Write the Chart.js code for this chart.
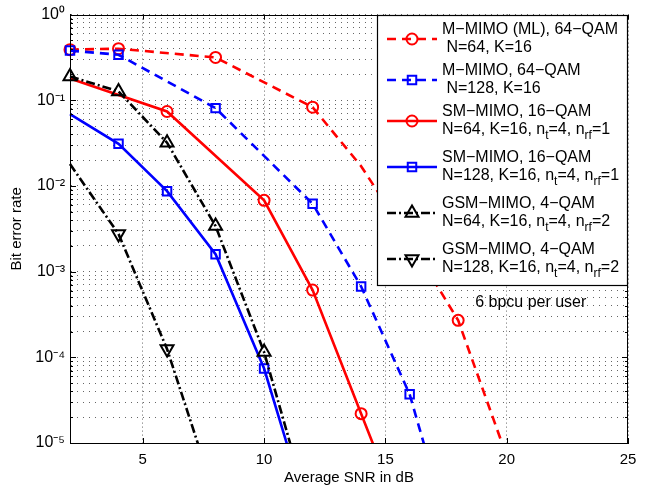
<!DOCTYPE html>
<html>
<head>
<meta charset="utf-8">
<script src="https://cdn.jsdelivr.net/npm/chart.js@4.4.1/dist/chart.umd.min.js"></script>
<style>
  html, body { margin: 0; padding: 0; background: #fff; }
  #wrap { width: 647px; height: 487px; }
</style>
</head>
<body>
<div id="wrap"><canvas id="berChart" width="647" height="487"></canvas></div>
<script>
var mlSnr = [2, 4, 8, 12, 14, 16, 18, 20];
var mlBer = [0.39, 0.40, 0.316, 0.083, 0.017, 0.0023, 2.7e-4, 7e-6];
var mlMarked = [2, 4, 8, 12, 18, 20];

var mm128Snr = [2, 4, 8, 12, 14, 16, 18];
var mm128Ber = [0.38, 0.34, 0.081, 6.2e-3, 6.7e-4, 3.7e-5, 4e-7];
var mm128Marked = [2, 4, 8, 12, 14, 16, 18];

var sm64Snr = [2, 6, 10, 12, 14, 16];
var sm64Ber = [0.18, 0.074, 6.8e-3, 6.1e-4, 2.2e-5, 8e-7];
var sm64Marked = [6, 10, 12, 14, 16];

var sm128Snr = [2, 4, 6, 8, 10, 12];
var sm128Ber = [0.069, 0.031, 8.7e-3, 1.6e-3, 7.4e-5, 1e-6];
var sm128Marked = [4, 6, 8, 10, 12];

var gsm64Snr = [2, 4, 6, 8, 10, 12];
var gsm64Ber = [0.19, 0.127, 0.032, 3.4e-3, 1.15e-4, 1.2e-6];
var gsm64Marked = [2, 4, 6, 8, 10, 12];

var gsm128Snr = [2, 4, 6, 8];
var gsm128Ber = [0.018, 2.75e-3, 1.25e-4, 2.3e-6];
var gsm128Marked = [4, 6, 8];

var xTicks = [5, 10, 15, 20, 25];
var yDecades = [-5, -4, -3, -2, -1, 0];

var seriesNames = [
    ['M−MIMO (ML), 64−QAM', ' N=64, K=16'],
    ['M−MIMO, 64−QAM', ' N=128, K=16'],
    ['SM−MIMO, 16−QAM', 'N=64, K=16, n_{t}=4, n_{rf}=1'],
    ['SM−MIMO, 16−QAM', 'N=128, K=16, n_{t}=4, n_{rf}=1'],
    ['GSM−MIMO, 4−QAM', 'N=64, K=16, n_{t}=4, n_{rf}=2'],
    ['GSM−MIMO, 4−QAM', 'N=128, K=16, n_{t}=4, n_{rf}=2']
];
var noteText = '6 bpcu per user';

var fontFam = "'Liberation Sans', Arial, Helvetica, sans-serif";
var supDigits = {'0':'⁰','1':'¹','2':'²','3':'³','4':'⁴','5':'⁵','-':'⁻'};

function pts(xs, ys) {
    return xs.map(function(x, i){ return {x: x, y: ys[i]}; });
}
function plainName(n) {
    return (n[0] + ' ' + n[1].trim()).replace(/_\{([^}]*)\}/g, '$1');
}
// only some points carry a marker in the figure
function markedOnly(list, r) {
    return function(c){
        var p = c.raw;
        return (p && list.indexOf(p.x) >= 0) ? r : 0;
    };
}

var lineW = 2.6;
var clipArea = {left: 10, top: 10, right: 10, bottom: 0};

var datasets = [
    { data: pts(mlSnr, mlBer), borderColor: '#ff0000', borderDash: [9, 6],
      pointStyle: 'circle', pointRadius: markedOnly(mlMarked, 5.5), legendRadius: 5.5 },
    { data: pts(mm128Snr, mm128Ber), borderColor: '#0000ff', borderDash: [9, 6],
      pointStyle: 'rect', pointRadius: markedOnly(mm128Marked, 6), legendRadius: 6 },
    { data: pts(sm64Snr, sm64Ber), borderColor: '#ff0000', borderDash: [],
      pointStyle: 'circle', pointRadius: markedOnly(sm64Marked, 5.5), legendRadius: 5.5 },
    { data: pts(sm128Snr, sm128Ber), borderColor: '#0000ff', borderDash: [],
      pointStyle: 'rect', pointRadius: markedOnly(sm128Marked, 6), legendRadius: 6 },
    { data: pts(gsm64Snr, gsm64Ber), borderColor: '#000000', borderDash: [9, 3, 2, 3],
      pointStyle: 'triangle', pointRadius: markedOnly(gsm64Marked, 7.5), legendRadius: 7.5 },
    { data: pts(gsm128Snr, gsm128Ber), borderColor: '#000000', borderDash: [9, 3, 2, 3],
      pointStyle: 'triangle', pointRotation: 180, pointRadius: markedOnly(gsm128Marked, 7.5), legendRadius: 7.5 }
];
datasets.forEach(function(d, i){
    d.label = plainName(seriesNames[i]);
    d.borderWidth = lineW;
    d.pointBorderColor = d.borderColor;
    d.pointBackgroundColor = 'rgba(0,0,0,0)';
    d.pointBorderWidth = 2;
    d.tension = 0;
    d.clip = clipArea;
    d.order = datasets.length - 1 - i;   // later series on top, like matlab
});

function drawRich(ctx, str, x, y, size) {
    var parts = str.split(/(_\{[^}]*\})/);
    parts.forEach(function(p){
        if (!p) return;
        if (p.indexOf('_{') === 0) {
            var s = p.slice(2, -1);
            ctx.font = Math.round(size * 0.72) + 'px ' + fontFam;
            ctx.fillText(s, x, y + size * 0.38);
            x += ctx.measureText(s).width;
        } else {
            ctx.font = size + 'px ' + fontFam;
            ctx.fillText(p, x, y);
            x += ctx.measureText(p).width;
        }
    });
}

var figureExtras = {
    id: 'figureExtras',
    afterDatasetsDraw: function(chart) {
        var ctx = chart.ctx, a = chart.chartArea;
        var xs = chart.scales.x, ys = chart.scales.y;
        ctx.save();

        // inward tick marks
        ctx.strokeStyle = '#000';
        ctx.lineWidth = 1;
        ctx.setLineDash([]);
        ctx.beginPath();
        xTicks.forEach(function(v){
            var px = Math.round(xs.getPixelForValue(v)) + 0.5;
            ctx.moveTo(px, a.bottom); ctx.lineTo(px, a.bottom - 5);
            ctx.moveTo(px, a.top); ctx.lineTo(px, a.top + 5);
        });
        ys.ticks.forEach(function(t){
            var len = t.major ? 6 : 3;
            var py = Math.round(ys.getPixelForValue(t.value)) + 0.5;
            ctx.moveTo(a.left, py); ctx.lineTo(a.left + len, py);
            ctx.moveTo(a.right, py); ctx.lineTo(a.right - len, py);
        });
        ctx.stroke();

        // frame
        ctx.strokeRect(Math.round(a.left) + 0.5, Math.round(a.top) + 0.5,
                       Math.round(a.right - a.left) - 1, Math.round(a.bottom - a.top));

        // legend box
        var lx = Math.round(a.right) - 251, ly = Math.round(a.top), lw = 251, lh = 270;
        ctx.fillStyle = '#fff';
        ctx.fillRect(lx, ly, lw, lh);
        ctx.strokeStyle = '#000';
        ctx.lineWidth = 1.2;
        ctx.strokeRect(lx + 0.5, ly + 0.5, lw - 1, lh);

        var entryH = [41, 41, 46, 46, 46, 46];
        var yy = ly + 15;
        chart.data.datasets.forEach(function(d, i){
            var sy = yy + 9;
            ctx.save();
            ctx.strokeStyle = d.borderColor;
            ctx.lineWidth = lineW;
            ctx.setLineDash(d.borderDash);
            ctx.beginPath();
            ctx.moveTo(lx + 10, sy); ctx.lineTo(lx + 60, sy);
            ctx.stroke();
            ctx.setLineDash([]);
            ctx.lineWidth = 2;
            ctx.fillStyle = 'rgba(0,0,0,0)';
            Chart.helpers.drawPoint(ctx, {
                pointStyle: d.pointStyle, radius: d.legendRadius,
                rotation: d.pointRotation || 0, borderWidth: 2
            }, lx + 35, sy);
            ctx.restore();

            ctx.fillStyle = '#000';
            ctx.textBaseline = 'middle';
            ctx.textAlign = 'left';
            drawRich(ctx, seriesNames[i][0], lx + 65, yy, 16);
            drawRich(ctx, seriesNames[i][1], lx + 65, yy + 18, 16);
            yy += entryH[i];
        });

        // annotation
        ctx.fillStyle = '#000';
        ctx.font = '16px ' + fontFam;
        ctx.textBaseline = 'middle';
        ctx.fillText(noteText, xs.getPixelForValue(18.7), ys.getPixelForValue(4.4e-4));

        ctx.restore();
    }
};

var ctx = document.getElementById('berChart');
var berChart = new Chart(ctx, {
    type: 'line',
    data: { datasets: datasets },
    options: {
        responsive: false,
        animation: false,
        devicePixelRatio: 1,
        layout: { padding: { top: 13, right: 19, bottom: 0, left: 0 } },
        plugins: {
            legend: { display: false },
            tooltip: { enabled: false }
        },
        scales: {
            x: {
                type: 'linear',
                min: 2,
                max: 25,
                afterBuildTicks: function(s){ s.ticks = xTicks.map(function(v){ return {value: v}; }); },
                afterFit: function(s){ s.height = 44; },
                ticks: { color: '#000', font: { family: fontFam, size: 15 }, padding: 8, maxRotation: 0 },
                grid: { color: 'rgba(0,0,0,0.6)', lineWidth: 1, drawTicks: false },
                border: { display: true, color: '#000', width: 1, dash: [1, 3] },
                title: { display: true, text: 'Average SNR in dB', color: '#000',
                         font: { family: fontFam, size: 15 }, padding: { top: 6, bottom: 0 } }
            },
            y: {
                type: 'logarithmic',
                min: 1e-5,
                max: 1,
                afterBuildTicks: function(s){
                    var t = [];
                    for (var e = -5; e < 0; e++) {
                        for (var k = 1; k < 10; k++) t.push({value: k * Math.pow(10, e), major: k === 1});
                    }
                    t.push({value: 1, major: true});
                    s.ticks = t;
                },
                afterFit: function(s){ s.width = 70; },
                ticks: {
                    autoSkip: false,
                    color: '#000',
                    font: { family: fontFam, size: 16 },
                    padding: 5,
                    callback: function(v){
                        var e = Math.round(Math.log10(v));
                        if (Math.abs(v - Math.pow(10, e)) > 1e-12 * Math.pow(10, e + 1)) return '';
                        if (yDecades.indexOf(e) < 0) return '';
                        return '10' + String(e).split('').map(function(c){ return supDigits[c]; }).join('');
                    }
                },
                grid: { color: 'rgba(0,0,0,0.6)', lineWidth: 1, drawTicks: false },
                border: { display: true, color: '#000', width: 1, dash: [1, 5] },
                title: { display: true, text: 'Bit error rate', color: '#000',
                         font: { family: fontFam, size: 15 }, padding: { top: 8, bottom: 4 } }
            }
        }
    },
    plugins: [figureExtras]
});
</script>
</body>
</html>
